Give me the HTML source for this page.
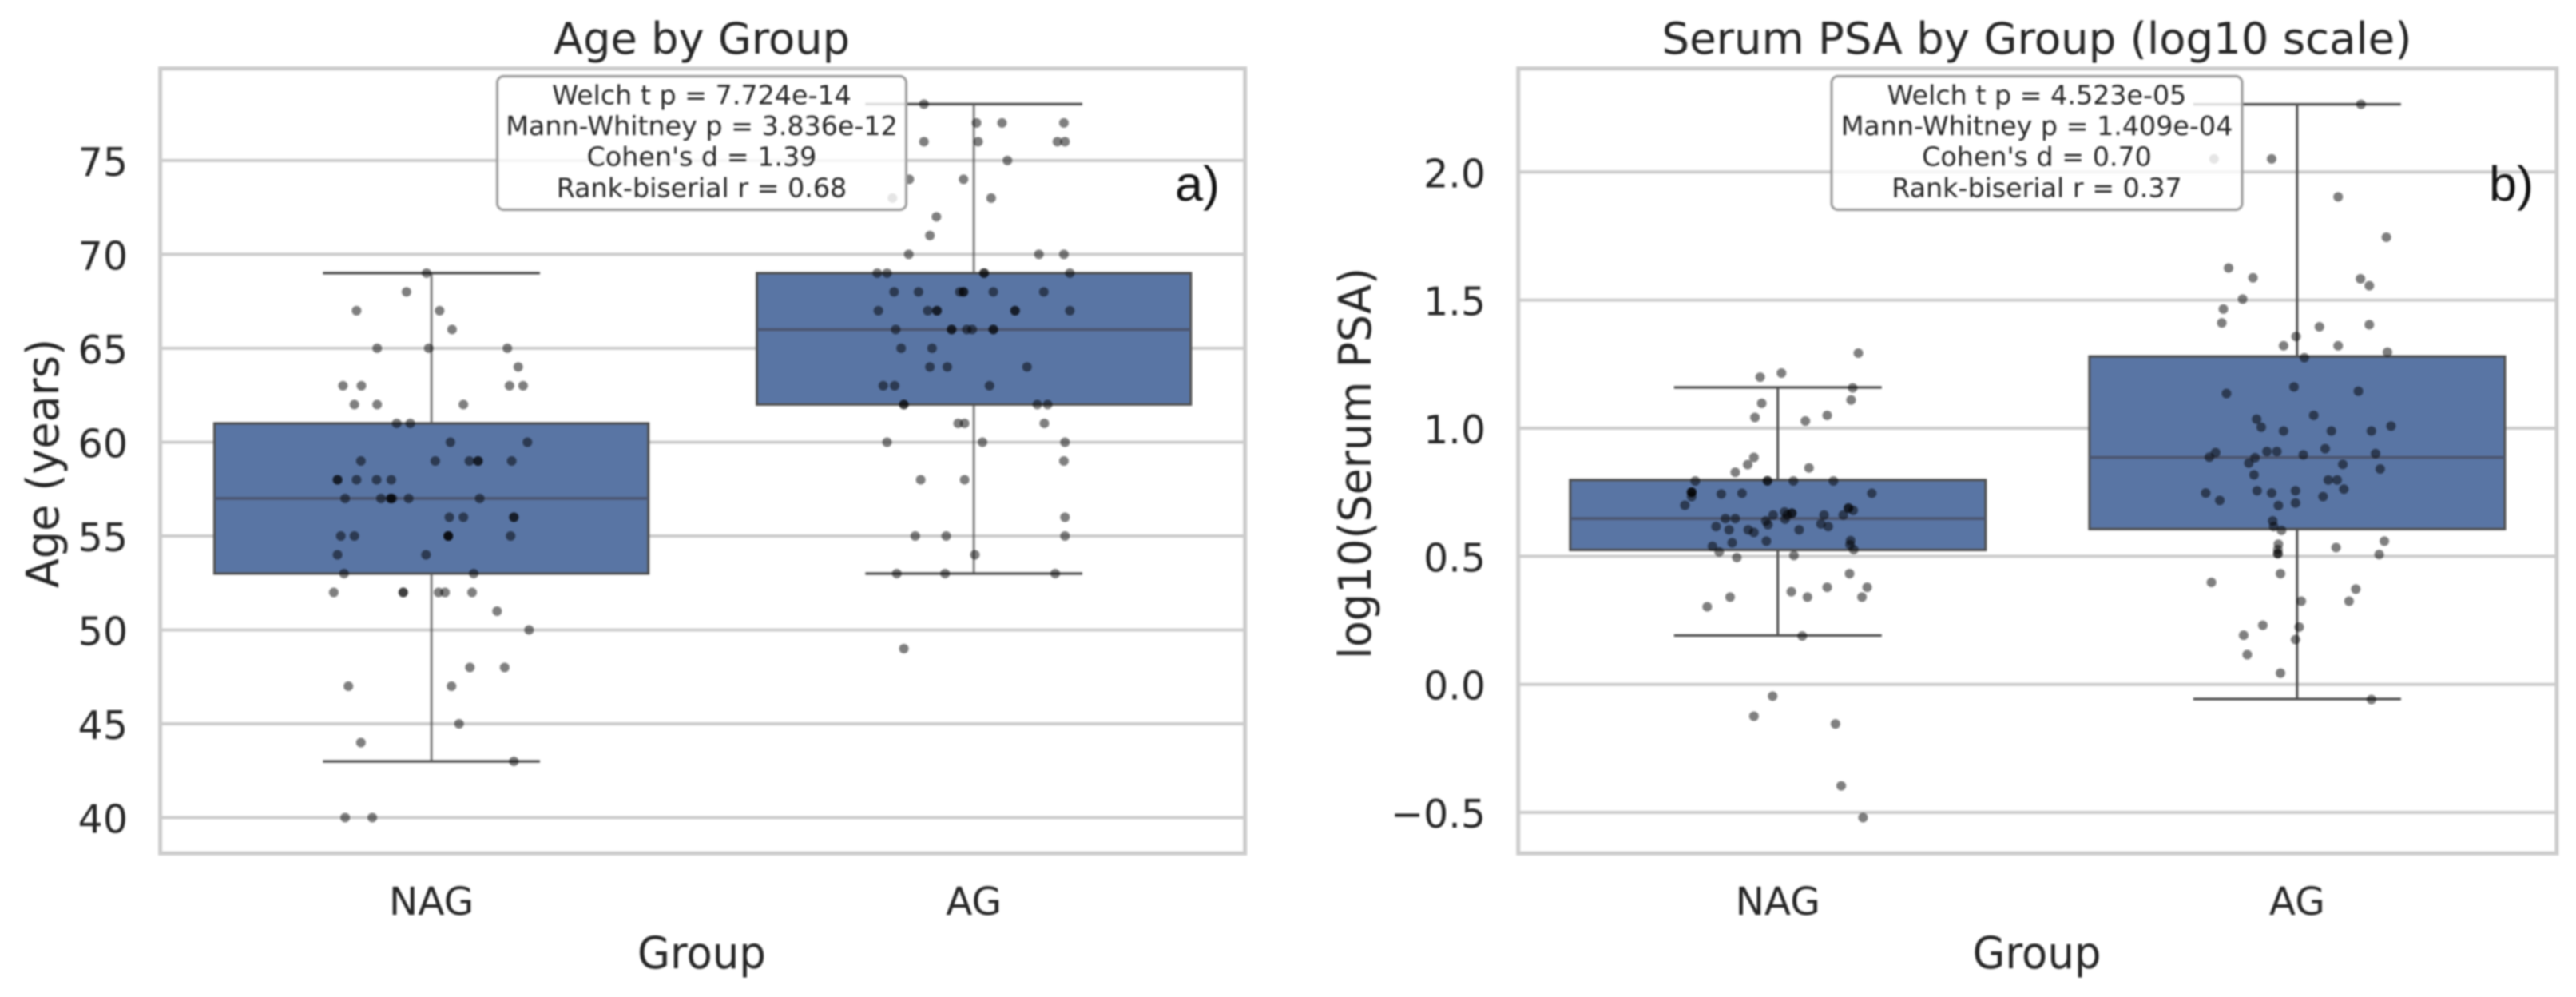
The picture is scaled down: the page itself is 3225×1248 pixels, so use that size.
<!DOCTYPE html>
<html lang="en">
<head>
<meta charset="utf-8">
<title>Age and Serum PSA by Group</title>
<style>
html,body{margin:0;padding:0;background:#fff;width:3225px;height:1248px;overflow:hidden}
svg{display:block;filter:blur(1px)}
text{font-family:"DejaVu Sans","Liberation Sans",sans-serif;fill:#262626}
</style>
</head>
<body>
<svg id="figure" xmlns="http://www.w3.org/2000/svg" width="3225" height="1248" viewBox="0 0 3225 1248"></svg>
<script>
// ---------- shared categories ----------
const groupCategories = ["NAG", "AG"];

// ---------- panel a: age ----------
const ageTickValues = [40, 45, 50, 55, 60, 65, 70, 75];
const ageTickLabels = ["40", "45", "50", "55", "60", "65", "70", "75"];
const ageQ1 = [53, 62];
const ageMedian = [57, 66];
const ageQ3 = [61, 69];
const ageWhiskerLow = [43, 53];
const ageWhiskerHigh = [69, 78];
const ageStatsLines = ["Welch t p = 7.724e-14", "Mann-Whitney p = 3.836e-12", "Cohen's d = 1.39", "Rank-biserial r = 0.68"];

const ageNagValues = [69,68,67,67,66,65,65,65,64,63,63,63,63,62,62,62,61,61,60,60,59,59,59,59,59,59,58,58,58,58,58,57,57,57,57,57,57,57,56,56,56,56,55,55,55,55,55,55,54,54,53,53,52,52,52,52,52,52,51,50,48,48,47,47,45,44,43,40,40];
const ageNagJitter = [-0.009,-0.046,-0.138,0.015,0.038,-0.100,-0.005,0.140,0.160,-0.163,-0.129,0.144,0.169,-0.142,-0.100,0.059,-0.064,-0.039,0.035,0.177,-0.130,0.007,0.070,0.086,0.086,0.148,-0.173,-0.173,-0.138,-0.101,-0.074,-0.159,-0.093,-0.075,-0.075,-0.072,-0.042,0.089,0.033,0.059,0.152,0.152,-0.167,-0.142,0.031,0.031,0.031,0.146,-0.173,-0.010,-0.161,0.078,-0.180,-0.052,-0.052,0.013,0.025,0.075,0.121,0.180,0.071,0.135,-0.153,0.037,0.051,-0.130,0.152,-0.159,-0.109];

const ageAgValues = [78,77,77,77,76,76,76,76,75,74,74,73,73,72,71,70,70,70,69,69,69,69,69,68,68,68,68,68,68,68,67,67,67,67,67,67,67,66,66,66,66,66,66,66,65,65,64,64,64,63,63,63,62,62,62,62,61,61,61,60,60,60,59,58,58,56,55,55,55,54,53,53,53,49];
const ageAgJitter = [-0.092,0.005,0.052,0.166,-0.092,0.008,0.154,0.168,0.062,-0.119,-0.019,0.032,-0.150,-0.069,-0.081,-0.120,0.120,0.166,-0.178,-0.160,0.019,0.019,0.177,-0.147,-0.102,-0.026,-0.019,-0.019,0.036,0.129,-0.176,-0.085,-0.068,-0.068,0.076,0.076,0.177,-0.144,-0.041,-0.041,-0.013,-0.003,0.036,0.036,-0.134,-0.077,-0.081,-0.049,0.098,-0.167,-0.146,0.029,-0.129,-0.129,0.117,0.136,-0.029,-0.017,0.130,-0.160,0.016,0.168,0.166,-0.098,-0.017,0.168,-0.108,-0.051,0.168,0.002,-0.142,-0.053,0.150,-0.129];

// ---------- panel b: log10 serum PSA ----------
const psaTickValues = [-0.5, 0, 0.5, 1, 1.5, 2];
const psaTickLabels = ["\u22120.5", "0.0", "0.5", "1.0", "1.5", "2.0"];
const psaQ1 = [0.5245, 0.606];
const psaMedian = [0.647, 0.886];
const psaQ3 = [0.798, 1.28];
const psaWhiskerLow = [0.191, -0.057];
const psaWhiskerHigh = [1.159, 2.264];
const psaStatsLines = ["Welch t p = 4.523e-05", "Mann-Whitney p = 1.409e-04", "Cohen's d = 0.70", "Rank-biserial r = 0.37"];

const psaNagValues = [1.293,1.215,1.199,1.157,1.110,1.097,1.042,1.050,1.028,0.886,0.858,0.828,0.845,0.794,0.795,0.795,0.794,0.794,0.750,0.750,0.750,0.743,0.746,0.746,0.733,0.699,0.673,0.668,0.668,0.661,0.661,0.661,0.688,0.688,0.679,0.661,0.638,0.645,0.647,0.647,0.623,0.616,0.603,0.603,0.593,0.603,0.626,0.616,0.553,0.559,0.561,0.545,0.539,0.526,0.517,0.495,0.503,0.432,0.379,0.379,0.362,0.341,0.341,0.341,0.303,0.189,-0.046,-0.124,-0.154,-0.396,-0.520];
const psaNagJitter = [0.155,0.007,-0.034,0.144,0.141,-0.031,-0.044,0.095,0.053,-0.046,-0.058,-0.082,0.060,-0.159,-0.020,-0.020,0.030,0.107,-0.166,-0.166,-0.166,-0.109,-0.069,0.181,-0.166,-0.179,0.013,0.027,0.027,0.018,-0.009,0.089,0.136,0.136,0.145,0.126,-0.023,0.014,-0.101,-0.082,-0.019,-0.119,-0.094,-0.057,-0.046,0.041,0.083,0.097,-0.088,-0.022,0.140,0.139,-0.126,0.146,-0.113,-0.079,0.031,0.138,0.095,0.172,0.026,0.057,0.162,-0.092,-0.136,0.047,-0.010,-0.046,0.111,0.122,0.164];

const psaAgValues = [2.264,2.051,2.051,1.903,1.745,1.625,1.587,1.583,1.556,1.504,1.465,1.411,1.396,1.404,1.358,1.322,1.322,1.297,1.275,1.161,1.135,1.144,1.050,1.035,1.004,0.989,0.989,0.989,1.008,0.920,0.905,0.887,0.909,0.909,0.896,0.901,0.885,0.864,0.859,0.841,0.818,0.798,0.798,0.762,0.747,0.756,0.747,0.756,0.718,0.733,0.698,0.708,0.638,0.616,0.601,0.547,0.526,0.510,0.510,0.534,0.559,0.507,0.432,0.398,0.372,0.325,0.325,0.231,0.224,0.192,0.175,0.116,0.044,-0.059];
const psaAgJitter = [0.123,-0.049,-0.160,0.079,0.172,-0.132,-0.085,0.122,0.139,-0.105,-0.142,-0.145,0.043,0.139,-0.002,-0.026,0.079,0.174,0.014,-0.006,-0.136,0.118,0.032,-0.078,-0.069,-0.026,0.066,0.143,0.181,0.054,-0.157,-0.169,-0.058,-0.039,0.012,0.151,-0.081,-0.093,0.088,0.160,-0.083,0.060,0.077,0.090,-0.176,-0.077,-0.049,-0.003,-0.149,0.050,-0.036,-0.003,-0.047,-0.045,-0.030,-0.036,-0.037,-0.037,-0.037,0.075,0.168,0.158,-0.032,-0.165,0.113,0.008,0.100,-0.066,0.004,-0.103,-0.003,-0.096,-0.032,0.143];

// ---------- drawing ----------
const NS = "http://www.w3.org/2000/svg";
const figure = document.getElementById("figure");

function make(parent, tag, attrs, txt) {
  const node = document.createElementNS(NS, tag);
  for (const key in attrs) node.setAttribute(key, attrs[key]);
  if (txt !== undefined) node.textContent = txt;
  parent.appendChild(node);
  return node;
}

const FRAME_TOP = 85.7;
const FRAME_BOTTOM = 1068.2;
const SPINE = "#cccccc";
const EDGE = "#4f4f4f";
const BOX = "#5975a4";

function drawPanel(cfg) {
  const panel = make(figure, "g", {});
  
  

  const xScale = v => cfg.left + (v + 0.5) / 2 * (cfg.right - cfg.left);
  const yScale = v => FRAME_BOTTOM - (v - cfg.yMin) / (cfg.yMax - cfg.yMin) * (FRAME_BOTTOM - FRAME_TOP);
  const unit = xScale(1) - xScale(0);

  // title and axis titles
  const title = make(panel, "text", {x: cfg.centerX, y: 67, "text-anchor": "middle", "font-size": 54, textLength: cfg.titleLength, lengthAdjust: "spacingAndGlyphs"}, cfg.title);
  
  

  const xTitle = make(panel, "text", {x: cfg.centerX, y: 1212, "text-anchor": "middle", "font-size": 55, textLength: 161, lengthAdjust: "spacingAndGlyphs"}, "Group");
  
  

  const yTitle = make(panel, "text", {transform: "translate(" + cfg.yTitleX + " 580) rotate(-90)", "text-anchor": "middle", "font-size": 56, textLength: cfg.yTitleLength, lengthAdjust: "spacingAndGlyphs"}, cfg.yTitle);
  
  

  // grid and y ticks
  cfg.ticks.forEach((tick, i) => {
    const line = make(panel, "line", {x1: cfg.left, x2: cfg.right, y1: yScale(tick), y2: yScale(tick), stroke: SPINE, "stroke-width": 4});
    
    
    const label = make(panel, "text", {x: cfg.tickRight, y: yScale(tick) + 19, "text-anchor": "end", "font-size": 49}, cfg.tickLabels[i]);
    
    
  });

  // spines
  const frame = make(panel, "rect", {x: cfg.left, y: FRAME_TOP, width: cfg.right - cfg.left, height: FRAME_BOTTOM - FRAME_TOP, fill: "none", stroke: SPINE, "stroke-width": 5});
  
  

  // boxes and whiskers
  groupCategories.forEach((cat, i) => {
    const cx = xScale(i);
    const group = make(panel, "g", {});
    
    
    const halfBox = unit * 0.4;
    const halfCap = unit * 0.2;
    make(group, "line", {x1: cx, x2: cx, y1: yScale(cfg.q3[i]), y2: yScale(cfg.high[i]), stroke: EDGE, "stroke-width": 3, opacity: cfg.whiskerOpacity});
    make(group, "line", {x1: cx, x2: cx, y1: yScale(cfg.q1[i]), y2: yScale(cfg.low[i]), stroke: EDGE, "stroke-width": 3, opacity: cfg.whiskerOpacity});
    make(group, "line", {x1: cx - halfCap, x2: cx + halfCap, y1: yScale(cfg.high[i]), y2: yScale(cfg.high[i]), stroke: EDGE, "stroke-width": 3.2});
    make(group, "line", {x1: cx - halfCap, x2: cx + halfCap, y1: yScale(cfg.low[i]), y2: yScale(cfg.low[i]), stroke: EDGE, "stroke-width": 3.2});
    make(group, "rect", {x: cx - halfBox, y: yScale(cfg.q3[i]), width: halfBox * 2, height: yScale(cfg.q1[i]) - yScale(cfg.q3[i]), fill: BOX, stroke: EDGE, "stroke-width": 3});
    make(group, "line", {x1: cx - halfBox, x2: cx + halfBox, y1: yScale(cfg.median[i]), y2: yScale(cfg.median[i]), stroke: "#4c5670", "stroke-width": 3.6});

    const tickText = make(panel, "text", {x: cx, y: 1145, "text-anchor": "middle", "font-size": 48.5}, cat);
    
    
  });

  // jittered points
  cfg.points.forEach((series, i) => {
    const layer = make(panel, "g", {});
    
    
    series.values.forEach((value, j) => {
      const dot = make(layer, "circle", {cx: xScale(i + series.jitter[j]), cy: yScale(value), r: 6, fill: "#000", "fill-opacity": 0.5});
      
      
    });
  });

  // statistics annotation
  const stats = make(panel, "g", {});
  
  
  make(stats, "rect", {x: cfg.centerX - cfg.statsWidth / 2, y: 95.5, width: cfg.statsWidth, height: 167, rx: 8, ry: 8, fill: "#fff", "fill-opacity": 0.8, stroke: "#9f9f9f", "stroke-width": 3.2});
  cfg.stats.forEach((line, i) => {
    make(stats, "text", {x: cfg.centerX, y: 130.5 + i * 38.6, "text-anchor": "middle", "font-size": 33.3}, line);
  });

  // panel letter
  const letter = make(panel, "text", {x: cfg.letterX, y: 251, "font-size": 61, textLength: 56, lengthAdjust: "spacingAndGlyphs", style: 'font-family:"Liberation Sans",sans-serif;fill:#111'}, cfg.letter);
  
  
}

drawPanel({
  key: "age", left: 200.6, right: 1558.7, centerX: 878.5, tickRight: 160,
  yMin: 38.1, yMax: 79.9, ticks: ageTickValues, tickLabels: ageTickLabels,
  q1: ageQ1, median: ageMedian, q3: ageQ3, low: ageWhiskerLow, high: ageWhiskerHigh,
  points: [{values: ageNagValues, jitter: ageNagJitter}, {values: ageAgValues, jitter: ageAgJitter}],
  title: "Age by Group", titleLength: 371, yTitle: "Age (years)", yTitleX: 73, yTitleLength: 312,
  stats: ageStatsLines, statsWidth: 512, letter: "a)", letterX: 1471, whiskerOpacity: 0.72
});
drawPanel({
  key: "psa", left: 1900.7, right: 3200.9, centerX: 2550, tickRight: 1860,
  yMin: -0.6595, yMax: 2.404, ticks: psaTickValues, tickLabels: psaTickLabels,
  q1: psaQ1, median: psaMedian, q3: psaQ3, low: psaWhiskerLow, high: psaWhiskerHigh,
  points: [{values: psaNagValues, jitter: psaNagJitter}, {values: psaAgValues, jitter: psaAgJitter}],
  title: "Serum PSA by Group (log10 scale)", titleLength: 939, yTitle: "log10(Serum PSA)", yTitleX: 1716, yTitleLength: 490,
  stats: psaStatsLines, statsWidth: 514, letter: "b)", letterX: 3116, whiskerOpacity: 1
});
</script>
</body>
</html>
